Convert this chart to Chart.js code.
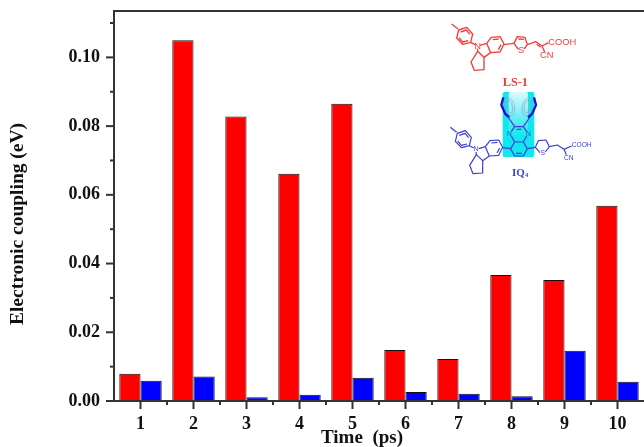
<!DOCTYPE html>
<html>
<head>
<meta charset="utf-8">
<title>Electronic coupling</title>
<script src="https://cdn.jsdelivr.net/npm/chart.js@4/dist/chart.umd.min.js"></script>
<style>
html, body { margin: 0; background: #fff; }
canvas { display: block; }
</style>
</head>
<body>
<canvas id="chart" width="644" height="447"></canvas>
<script>
const TIME_LABELS = ['1', '2', '3', '4', '5', '6', '7', '8', '9', '10'];
const LS1_VALUES = [0.0079, 0.105, 0.0828, 0.0661, 0.0865, 0.01485, 0.0122, 0.0367, 0.0352, 0.0568];
const IQ4_VALUES = [0.0059, 0.0071, 0.0011, 0.0018, 0.0068, 0.0026, 0.0021, 0.0014, 0.0146, 0.0056];

const AXIS_COLOR = '#333';
const SERIF_BOLD = 'bold 19px "Liberation Serif"';

//Draw a list of connected points as one line
function line(ctx, pts, close) {
    ctx.beginPath();
    pts.forEach((p, i) => i ? ctx.lineTo(p[0], p[1]) : ctx.moveTo(p[0], p[1]));
    if (close) ctx.closePath();
    ctx.stroke();
}

//The tolyl + fused ring part, same shape in both molecules
function drawDonor(ctx) {
    line(ctx, [[95, 42], [114, 57]]);
    line(ctx, [[116, 60], [140, 52], [158, 72], [152, 97], [128, 103], [110, 84]], true);
    line(ctx, [[122, 66], [139, 60], [150, 73]]);
    line(ctx, [[145, 92], [128, 96], [117, 83]]);
    line(ctx, [[152, 97], [165, 104]]);
    line(ctx, [[180, 106], [200, 100], [214, 82], [240, 80], [252, 102], [240, 126], [212, 128], [200, 100]]);
    line(ctx, [[218, 89], [236, 87]]);
    line(ctx, [[243, 104], [235, 119]]);
    line(ctx, [[212, 128], [192, 142], [173, 124], [172, 116]]);
    line(ctx, [[173, 124], [153, 156], [163, 181], [192, 179], [192, 142]]);
}

//Rings and labels next to the bars, in 3x crop coordinates from (420,10)
const moleculePlugin = {
    id: 'molecules',
    afterDraw(chart) {
        const ctx = chart.ctx;
        ctx.save();
        ctx.translate(420, 10);
        ctx.scale(1 / 3, 1 / 3);
        ctx.lineJoin = 'round';
        ctx.textAlign = 'left';
        ctx.textBaseline = 'middle';

        //LS-1 (red)
        ctx.strokeStyle = '#f23c3c';
        ctx.fillStyle = '#f23c3c';
        ctx.lineWidth = 4;
        drawDonor(ctx);
        line(ctx, [[252, 104], [282, 100]]);
        line(ctx, [[295, 118], [282, 100], [292, 80], [315, 82], [322, 104], [312, 117]]);
        line(ctx, [[295, 87], [312, 88]]);
        line(ctx, [[322, 104], [348, 95], [366, 108], [385, 98]]);
        line(ctx, [[350, 103], [362, 112]]);
        line(ctx, [[366, 108], [374, 126]]);
        ctx.font = '28px "Liberation Sans"';
        ctx.fillText('COOH', 385, 96);
        ctx.fillText('CN', 360, 137);
        ctx.fillText('S', 294, 122);
        ctx.fillText('N', 163, 108);
        ctx.font = 'bold 37px "Liberation Serif"';
        ctx.textAlign = 'center';
        ctx.fillText('LS-1', 286, 219);

        //Highlight box behind the IQ4 core
        ctx.fillStyle = '#12e6ee';
        ctx.beginPath();
        ctx.roundRect(248, 246, 95, 195, 6);
        ctx.fill();
        const fade = ctx.createLinearGradient(0, 246, 0, 380);
        fade.addColorStop(0, 'rgba(255,255,255,0.85)');
        fade.addColorStop(1, 'rgba(255,255,255,0)');
        ctx.fillStyle = fade;
        ctx.beginPath();
        ctx.roundRect(266, 246, 58, 134, 6);
        ctx.fill();

        //IQ4 (blue)
        ctx.strokeStyle = '#3f3fd6';
        ctx.fillStyle = '#3f3fd6';
        ctx.lineWidth = 3.6;
        ctx.save();
        ctx.translate(-4, 310);
        drawDonor(ctx);
        ctx.restore();
        line(ctx, [[248, 413], [272, 416], [284, 396], [310, 396], [322, 416], [310, 438], [284, 438], [272, 416]]);
        line(ctx, [[284, 396], [274, 378]]);
        line(ctx, [[310, 396], [320, 378]]);
        line(ctx, [[274, 364], [284, 350], [310, 350], [320, 364]]);
        line(ctx, [[290, 358], [304, 358]]);
        line(ctx, [[284, 350], [262, 318]]);
        line(ctx, [[310, 350], [332, 318]]);
        line(ctx, [[288, 430], [306, 430]]);
        line(ctx, [[322, 416], [346, 412]]);
        line(ctx, [[360, 428], [346, 412], [355, 392], [378, 390], [388, 410], [376, 426]]);
        line(ctx, [[388, 410], [412, 405], [432, 418], [455, 408]]);
        line(ctx, [[432, 418], [439, 434]]);
        ctx.strokeStyle = '#9a9ac8';
        ctx.lineWidth = 2;
        [[268, 290, 0.25], [322, 290, -0.25]].forEach(r => {
            ctx.beginPath();
            ctx.ellipse(r[0], r[1], 15, 28, -r[2], 0, Math.PI * 2);
            ctx.stroke();
            ctx.beginPath();
            ctx.ellipse(r[0], r[1], 9, 20, -r[2], 0, Math.PI * 2);
            ctx.stroke();
        });
        ctx.strokeStyle = '#1414d2';
        ctx.lineWidth = 7;
        line(ctx, [[250, 262], [244, 285], [256, 312], [268, 322]]);
        line(ctx, [[342, 262], [348, 285], [336, 312], [324, 322]]);
        ctx.font = '20px "Liberation Sans"';
        ctx.textAlign = 'center';
        ctx.fillText('N', 268, 371);
        ctx.fillText('N', 325, 371);
        ctx.fillText('S', 368, 430);
        ctx.fillText('N', 168, 418);
        ctx.textAlign = 'left';
        ctx.fillText('COOH', 455, 404);
        ctx.fillText('CN', 432, 445);
        ctx.font = 'bold 33px "Liberation Serif"';
        ctx.fillText('IQ', 276, 488);
        ctx.font = 'bold 20px "Liberation Serif"';
        ctx.fillText('4', 315, 496);
        ctx.restore();
    }
};

//Frame and long/short ticks; Chart.js has only one tick length per axis
const framePlugin = {
    id: 'frame',
    afterDatasetsDraw(chart) {
        const ctx = chart.ctx;
        const area = chart.chartArea;
        const x = chart.scales.x;
        const y = chart.scales.y;
        ctx.save();
        ctx.strokeStyle = AXIS_COLOR;
        ctx.lineWidth = 2;
        line(ctx, [[area.right, area.top], [area.left, area.top], [area.left, area.bottom], [area.right, area.bottom]]);
        y.ticks.forEach((t, i) => {
            const py = y.getPixelForTick(i);
            line(ctx, [[area.left - (i % 2 ? 4 : 8), py], [area.left, py]]);
        });
        TIME_LABELS.forEach((l, i) => {
            const major = x.getPixelForValue(i);
            const minor = x.getPixelForValue(i + 0.5);
            line(ctx, [[major, area.bottom], [major, area.bottom + 8]]);
            if (i < TIME_LABELS.length - 1) line(ctx, [[minor, area.bottom], [minor, area.bottom + 4]]);
        });
        //Both axis titles sit off-centre in the reference
        ctx.fillStyle = '#111';
        ctx.font = SERIF_BOLD;
        ctx.textAlign = 'center';
        ctx.textBaseline = 'middle';
        ctx.fillText('Time  (ps)', 362, 438);
        ctx.translate(18, 224);
        ctx.rotate(-Math.PI / 2);
        ctx.font = 'bold 19.5px "Liberation Serif"';
        ctx.fillText('Electronic coupling (eV)', 0, 0);
        ctx.restore();
    }
};

new Chart(document.getElementById('chart').getContext('2d'), {
    type: 'bar',
    data: {
        labels: TIME_LABELS,
        datasets: [
            { label: 'LS-1', data: LS1_VALUES, backgroundColor: '#ff0000', borderColor: '#111', borderWidth: 1 },
            { label: 'IQ4', data: IQ4_VALUES, backgroundColor: '#0000ff', borderColor: '#111', borderWidth: 1 }
        ]
    },
    options: {
        responsive: false,
        animation: false,
        layout: { padding: { top: 11, right: 0, bottom: 0, left: 0 } },
        plugins: { legend: { display: false }, tooltip: { enabled: false } },
        datasets: { bar: { barPercentage: 1, categoryPercentage: 0.8 } },
        scales: {
            x: {
                afterFit(scale) {
                    scale.height = 46;
                    scale.paddingLeft = 0;
                    scale.paddingRight = 0;
                },
                border: { display: false },
                grid: { drawOnChartArea: false, tickColor: 'transparent', tickLength: 8 },
                ticks: { color: '#111', font: { family: 'Liberation Serif', size: 18, weight: 'bold' }, padding: 5, maxRotation: 0 }
            },
            y: {
                min: 0,
                max: 0.1135,
                afterFit(scale) {
                    scale.width = 114;
                    //tick label overhang would push the plot top down
                    scale.paddingTop = 0;
                    scale.paddingBottom = 0;
                },
                border: { display: false },
                grid: { drawOnChartArea: false, tickColor: 'transparent', tickLength: 8 },
                ticks: {
                    stepSize: 0.01,
                    includeBounds: false,
                    autoSkip: false,
                    color: '#111',
                    font: { family: 'Liberation Serif', size: 18, weight: 'bold' },
                    padding: 6,
                    callback: (v, i) => i % 2 ? '' : v.toFixed(2)
                }
            }
        }
    },
    plugins: [framePlugin, moleculePlugin]
});
</script>
</body>
</html>
